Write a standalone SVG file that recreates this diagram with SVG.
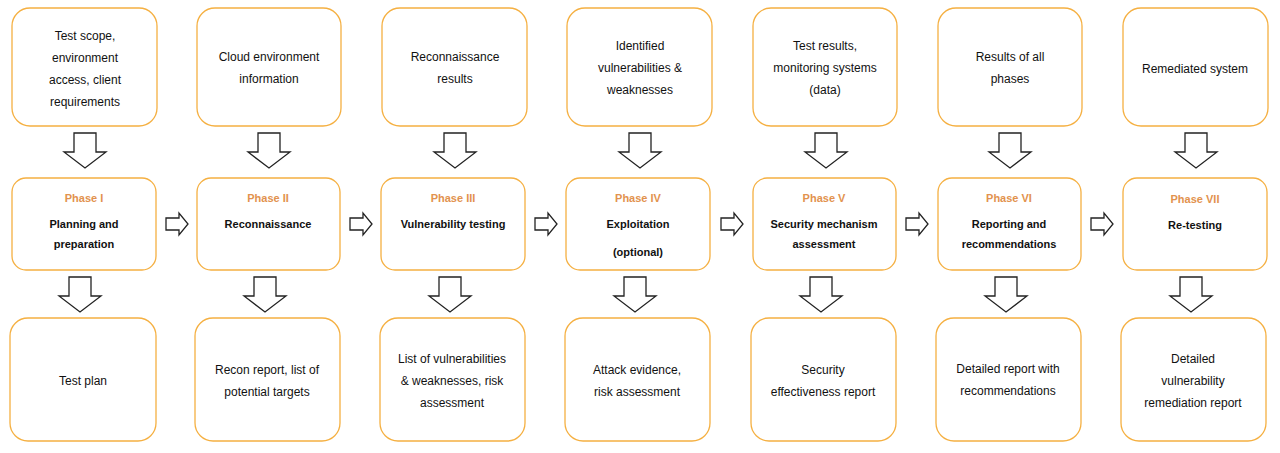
<svg xmlns="http://www.w3.org/2000/svg" width="1280" height="453" viewBox="0 0 1280 453">
<defs>
<style>
.b{fill:#fff;stroke:#F5B042;stroke-width:1.3}
.t{font-family:"Liberation Sans",Arial,sans-serif;font-size:12px;fill:#111;text-anchor:middle}
.p{font-family:"Liberation Sans",Arial,sans-serif;font-size:11px;font-weight:bold;fill:#E2924E;text-anchor:middle}
.h{font-family:"Liberation Sans",Arial,sans-serif;font-size:11px;font-weight:bold;fill:#111;text-anchor:middle}
.a{fill:#fff;stroke:#222;stroke-width:1.3}
</style>
<path id="da" d="M-11,0 H11 V19 H21 L0,35 L-21,19 H-11 Z"/>
<path id="ra" d="M0,-6 H13 V-11 L22,0 L13,11 V6 H0 Z"/>
</defs>
<rect width="1280" height="453" fill="#fff"/>
<g id="connectors">
<use href="#da" class="a" x="85" y="133"/><use href="#da" class="a" x="80" y="277"/>
<use href="#da" class="a" x="269" y="133"/><use href="#da" class="a" x="265" y="277"/>
<use href="#da" class="a" x="455" y="133"/><use href="#da" class="a" x="450" y="277"/>
<use href="#da" class="a" x="640" y="133"/><use href="#da" class="a" x="635" y="277"/>
<use href="#da" class="a" x="826" y="133"/><use href="#da" class="a" x="821" y="277"/>
<use href="#da" class="a" x="1010" y="133"/><use href="#da" class="a" x="1006" y="277"/>
<use href="#da" class="a" x="1196" y="133"/><use href="#da" class="a" x="1191" y="277"/>
<use href="#ra" class="a" x="166" y="224"/>
<use href="#ra" class="a" x="350" y="224"/>
<use href="#ra" class="a" x="535" y="224"/>
<use href="#ra" class="a" x="721" y="224"/>
<use href="#ra" class="a" x="906" y="224"/>
<use href="#ra" class="a" x="1091" y="224"/>
</g>
<g id="in1"><rect class="b" x="12" y="8" width="145" height="118" rx="18"/><text class="t" x="85" y="40">Test scope,</text><text class="t" x="85" y="62">environment</text><text class="t" x="85" y="84">access, client</text><text class="t" x="85" y="106">requirements</text></g>
<g id="in2"><rect class="b" x="197" y="8" width="144" height="118" rx="18"/><text class="t" x="269" y="61">Cloud environment</text><text class="t" x="269" y="83">information</text></g>
<g id="in3"><rect class="b" x="382" y="8" width="145" height="118" rx="18"/><text class="t" x="455" y="61">Reconnaissance</text><text class="t" x="455" y="83">results</text></g>
<g id="in4"><rect class="b" x="567" y="8" width="145" height="118" rx="18"/><text class="t" x="640" y="50">Identified</text><text class="t" x="640" y="72">vulnerabilities &amp;</text><text class="t" x="640" y="94">weaknesses</text></g>
<g id="in5"><rect class="b" x="753" y="8" width="144" height="118" rx="18"/><text class="t" x="825" y="50">Test results,</text><text class="t" x="825" y="72">monitoring systems</text><text class="t" x="825" y="94">(data)</text></g>
<g id="in6"><rect class="b" x="938" y="8" width="144" height="118" rx="18"/><text class="t" x="1010" y="61">Results of all</text><text class="t" x="1010" y="83">phases</text></g>
<g id="in7"><rect class="b" x="1123" y="8" width="145" height="118" rx="18"/><text class="t" x="1195" y="73">Remediated system</text></g>
<g id="ph1"><rect class="b" x="12" y="178" width="144" height="92" rx="14"/><text class="p" x="84" y="202">Phase I</text><text class="h" x="84" y="228">Planning and</text><text class="h" x="84" y="248">preparation</text></g>
<g id="ph2"><rect class="b" x="197" y="178" width="143" height="92" rx="14"/><text class="p" x="268" y="202">Phase II</text><text class="h" x="268" y="228">Reconnaissance</text></g>
<g id="ph3"><rect class="b" x="381" y="178" width="144" height="92" rx="14"/><text class="p" x="453" y="202">Phase III</text><text class="h" x="453" y="228">Vulnerability testing</text></g>
<g id="ph4"><rect class="b" x="566" y="178" width="144" height="92" rx="14"/><text class="p" x="638" y="202">Phase IV</text><text class="h" x="638" y="228">Exploitation</text><text class="h" x="638" y="256">(optional)</text></g>
<g id="ph5"><rect class="b" x="753" y="178" width="143" height="92" rx="14"/><text class="p" x="824" y="202">Phase V</text><text class="h" x="824" y="228">Security mechanism</text><text class="h" x="824" y="248">assessment</text></g>
<g id="ph6"><rect class="b" x="938" y="178" width="143" height="92" rx="14"/><text class="p" x="1009" y="202">Phase VI</text><text class="h" x="1009" y="228">Reporting and</text><text class="h" x="1009" y="248">recommendations</text></g>
<g id="ph7"><rect class="b" x="1123" y="178" width="144" height="92" rx="14"/><text class="p" x="1195" y="203">Phase VII</text><text class="h" x="1195" y="229">Re-testing</text></g>
<g id="out1"><rect class="b" x="10" y="318" width="146" height="123" rx="18"/><text class="t" x="83" y="385">Test plan</text></g>
<g id="out2"><rect class="b" x="195" y="318" width="145" height="123" rx="18"/><text class="t" x="267" y="374">Recon report, list of</text><text class="t" x="267" y="396">potential targets</text></g>
<g id="out3"><rect class="b" x="380" y="318" width="145" height="123" rx="18"/><text class="t" x="452" y="363">List of vulnerabilities</text><text class="t" x="452" y="385">&amp; weaknesses, risk</text><text class="t" x="452" y="407">assessment</text></g>
<g id="out4"><rect class="b" x="565" y="318" width="145" height="123" rx="18"/><text class="t" x="637" y="374">Attack evidence,</text><text class="t" x="637" y="396">risk assessment</text></g>
<g id="out5"><rect class="b" x="751" y="318" width="145" height="123" rx="18"/><text class="t" x="823" y="374">Security</text><text class="t" x="823" y="396">effectiveness report</text></g>
<g id="out6"><rect class="b" x="936" y="318" width="145" height="123" rx="18"/><text class="t" x="1008" y="373">Detailed report with</text><text class="t" x="1008" y="395">recommendations</text></g>
<g id="out7"><rect class="b" x="1121" y="318" width="145" height="123" rx="18"/><text class="t" x="1193" y="363">Detailed</text><text class="t" x="1193" y="385">vulnerability</text><text class="t" x="1193" y="407">remediation report</text></g>
</svg>
